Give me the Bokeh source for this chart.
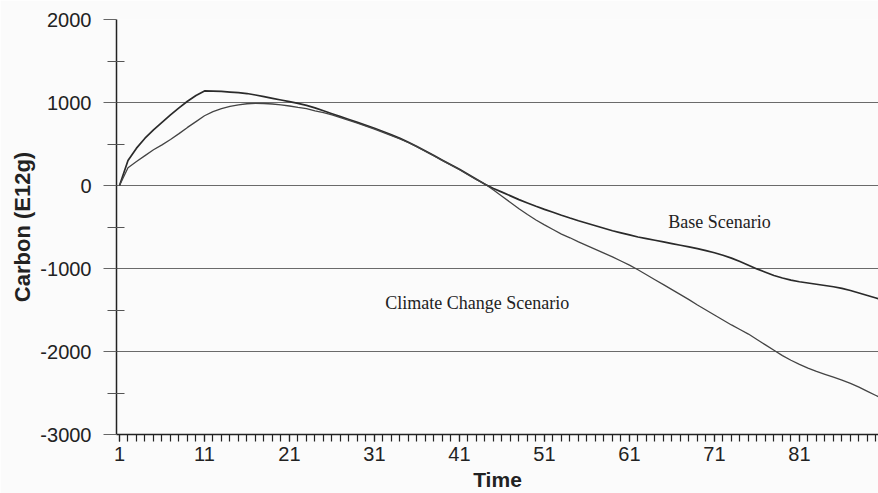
from bokeh.plotting import figure
from bokeh.models import FixedTicker, Range1d, Label, PrintfTickFormatter
from bokeh.embed import file_html
from bokeh.resources import INLINE

# ---- data ----
time = list(range(1, 92))

base_scenario = [
    0, 300, 450, 570, 670, 760, 850, 935, 1015, 1085,          # 1-10
    1140, 1138, 1133, 1126, 1118, 1108, 1090, 1070, 1050, 1030,  # 11-20
    1010, 990, 965, 935, 900, 865, 830, 795, 760, 725,          # 21-30
    690, 650, 610, 568, 522, 470, 415, 360, 305, 250,           # 31-40
    195, 135, 75, 15, -35, -80, -125, -170, -210, -250,         # 41-50
    -288, -323, -358, -392, -425, -455, -485, -515, -545, -570,  # 51-60
    -595, -620, -640, -660, -680, -700, -720, -740, -760, -785,  # 61-70
    -810, -840, -875, -915, -960, -1005, -1045, -1085, -1115, -1140,  # 71-80
    -1160, -1175, -1190, -1205, -1220, -1240, -1265, -1295, -1325, -1355,  # 81-90
    -1385,                                                       # 91
]

climate_change_scenario = [
    0, 215, 290, 360, 430, 490, 555, 625, 700, 770,             # 1-10
    840, 890, 925, 952, 972, 985, 990, 988, 982, 972,           # 11-20
    958, 940, 925, 900, 878, 850, 818, 784, 750, 716,           # 21-30
    680, 641, 601, 560, 515, 465, 410, 355, 300, 245,           # 31-40
    190, 130, 70, 18, -55, -130, -205, -280, -350, -415,        # 41-50
    -475, -530, -585, -630, -680, -725, -770, -815, -860, -910,  # 51-60
    -960, -1015, -1075, -1135, -1195, -1255, -1315, -1375, -1440, -1500,  # 61-70
    -1560, -1620, -1680, -1735, -1790, -1855, -1920, -1985, -2050, -2105,  # 71-80
    -2155, -2200, -2240, -2275, -2310, -2345, -2385, -2430, -2480, -2530,  # 81-90
    -2580,                                                       # 91
]

x_major_ticks = [1, 11, 21, 31, 41, 51, 61, 71, 81, 91]
y_major_ticks = [-3000, -2000, -1000, 0, 1000, 2000]
y_minor_ticks = [-2500, -1500, -500, 500, 1500]

series_labels = ["Base Scenario", "Climate Change Scenario"]

# ---- figure ----
BG = "#fbfbfb"
INK = "#222222"

p = figure(
    width=878, height=493,
    output_backend="svg", toolbar_location=None,
    x_range=Range1d(0.647, 90.3), y_range=Range1d(-3000, 2000),
    min_border_left=116, min_border_right=0,
    min_border_top=19, min_border_bottom=58,
    background_fill_color=BG, border_fill_color=BG,
)
p.outline_line_color = None

# x axis
p.xaxis.ticker = FixedTicker(ticks=x_major_ticks, minor_ticks=time)
p.xaxis.axis_label = "Time"
p.xaxis.axis_label_text_font = "Liberation Sans"
p.xaxis.axis_label_text_font_style = "bold"
p.xaxis.axis_label_text_font_size = "21px"
p.xaxis.axis_label_text_color = INK
p.xaxis.axis_label_standoff = 4
p.xaxis.major_label_text_font = "Liberation Sans"
p.xaxis.major_label_text_font_size = "20px"
p.xaxis.major_label_text_color = INK
p.xaxis.major_label_standoff = 5
p.xaxis.major_tick_in = 0
p.xaxis.major_tick_out = 7
p.xaxis.minor_tick_in = 0
p.xaxis.minor_tick_out = 7
p.xaxis.axis_line_color = INK
p.xaxis.axis_line_width = 1.5
p.xaxis.major_tick_line_color = INK
p.xaxis.minor_tick_line_color = INK
p.xaxis.major_tick_line_width = 1.2
p.xaxis.minor_tick_line_width = 1.2

# y axis
p.yaxis.ticker = FixedTicker(ticks=y_major_ticks, minor_ticks=y_minor_ticks)
p.yaxis.formatter = PrintfTickFormatter(format="%d")
p.yaxis.axis_label = "Carbon (E12g)"
p.yaxis.axis_label_text_font = "Liberation Sans"
p.yaxis.axis_label_text_font_style = "bold"
p.yaxis.axis_label_text_font_size = "22px"
p.yaxis.axis_label_text_color = INK
p.yaxis.axis_label_standoff = 2
p.yaxis.major_label_text_font = "Liberation Sans"
p.yaxis.major_label_text_font_size = "20px"
p.yaxis.major_label_text_color = INK
p.yaxis.major_label_standoff = 12
p.yaxis.major_tick_in = 0
p.yaxis.major_tick_out = 13
p.yaxis.minor_tick_in = 8
p.yaxis.minor_tick_out = 9
p.yaxis.axis_line_color = INK
p.yaxis.axis_line_width = 1.5
p.yaxis.major_tick_line_color = "#666666"
p.yaxis.minor_tick_line_color = "#555555"
p.yaxis.minor_tick_line_width = 1.2

# grid
p.xgrid.grid_line_color = None
p.ygrid.ticker = FixedTicker(ticks=y_major_ticks)
p.ygrid.grid_line_color = "#6a6a6a"
p.ygrid.grid_line_width = 1.1

# lines
p.line(time, base_scenario, line_color="#2a2a2a", line_width=1.7)
p.line(time, climate_change_scenario, line_color="#444444", line_width=1.3)

# annotations
p.add_layout(Label(x=71.6, y=-445, text=series_labels[0],
                   text_font="Liberation Serif", text_font_size="18px",
                   text_color=INK, text_align="center", text_baseline="middle"))
p.add_layout(Label(x=43.1, y=-1418, text=series_labels[1],
                   text_font="Liberation Serif", text_font_size="18px",
                   text_color=INK, text_align="center", text_baseline="middle"))

open("out.html", "w").write(file_html(p, INLINE))
